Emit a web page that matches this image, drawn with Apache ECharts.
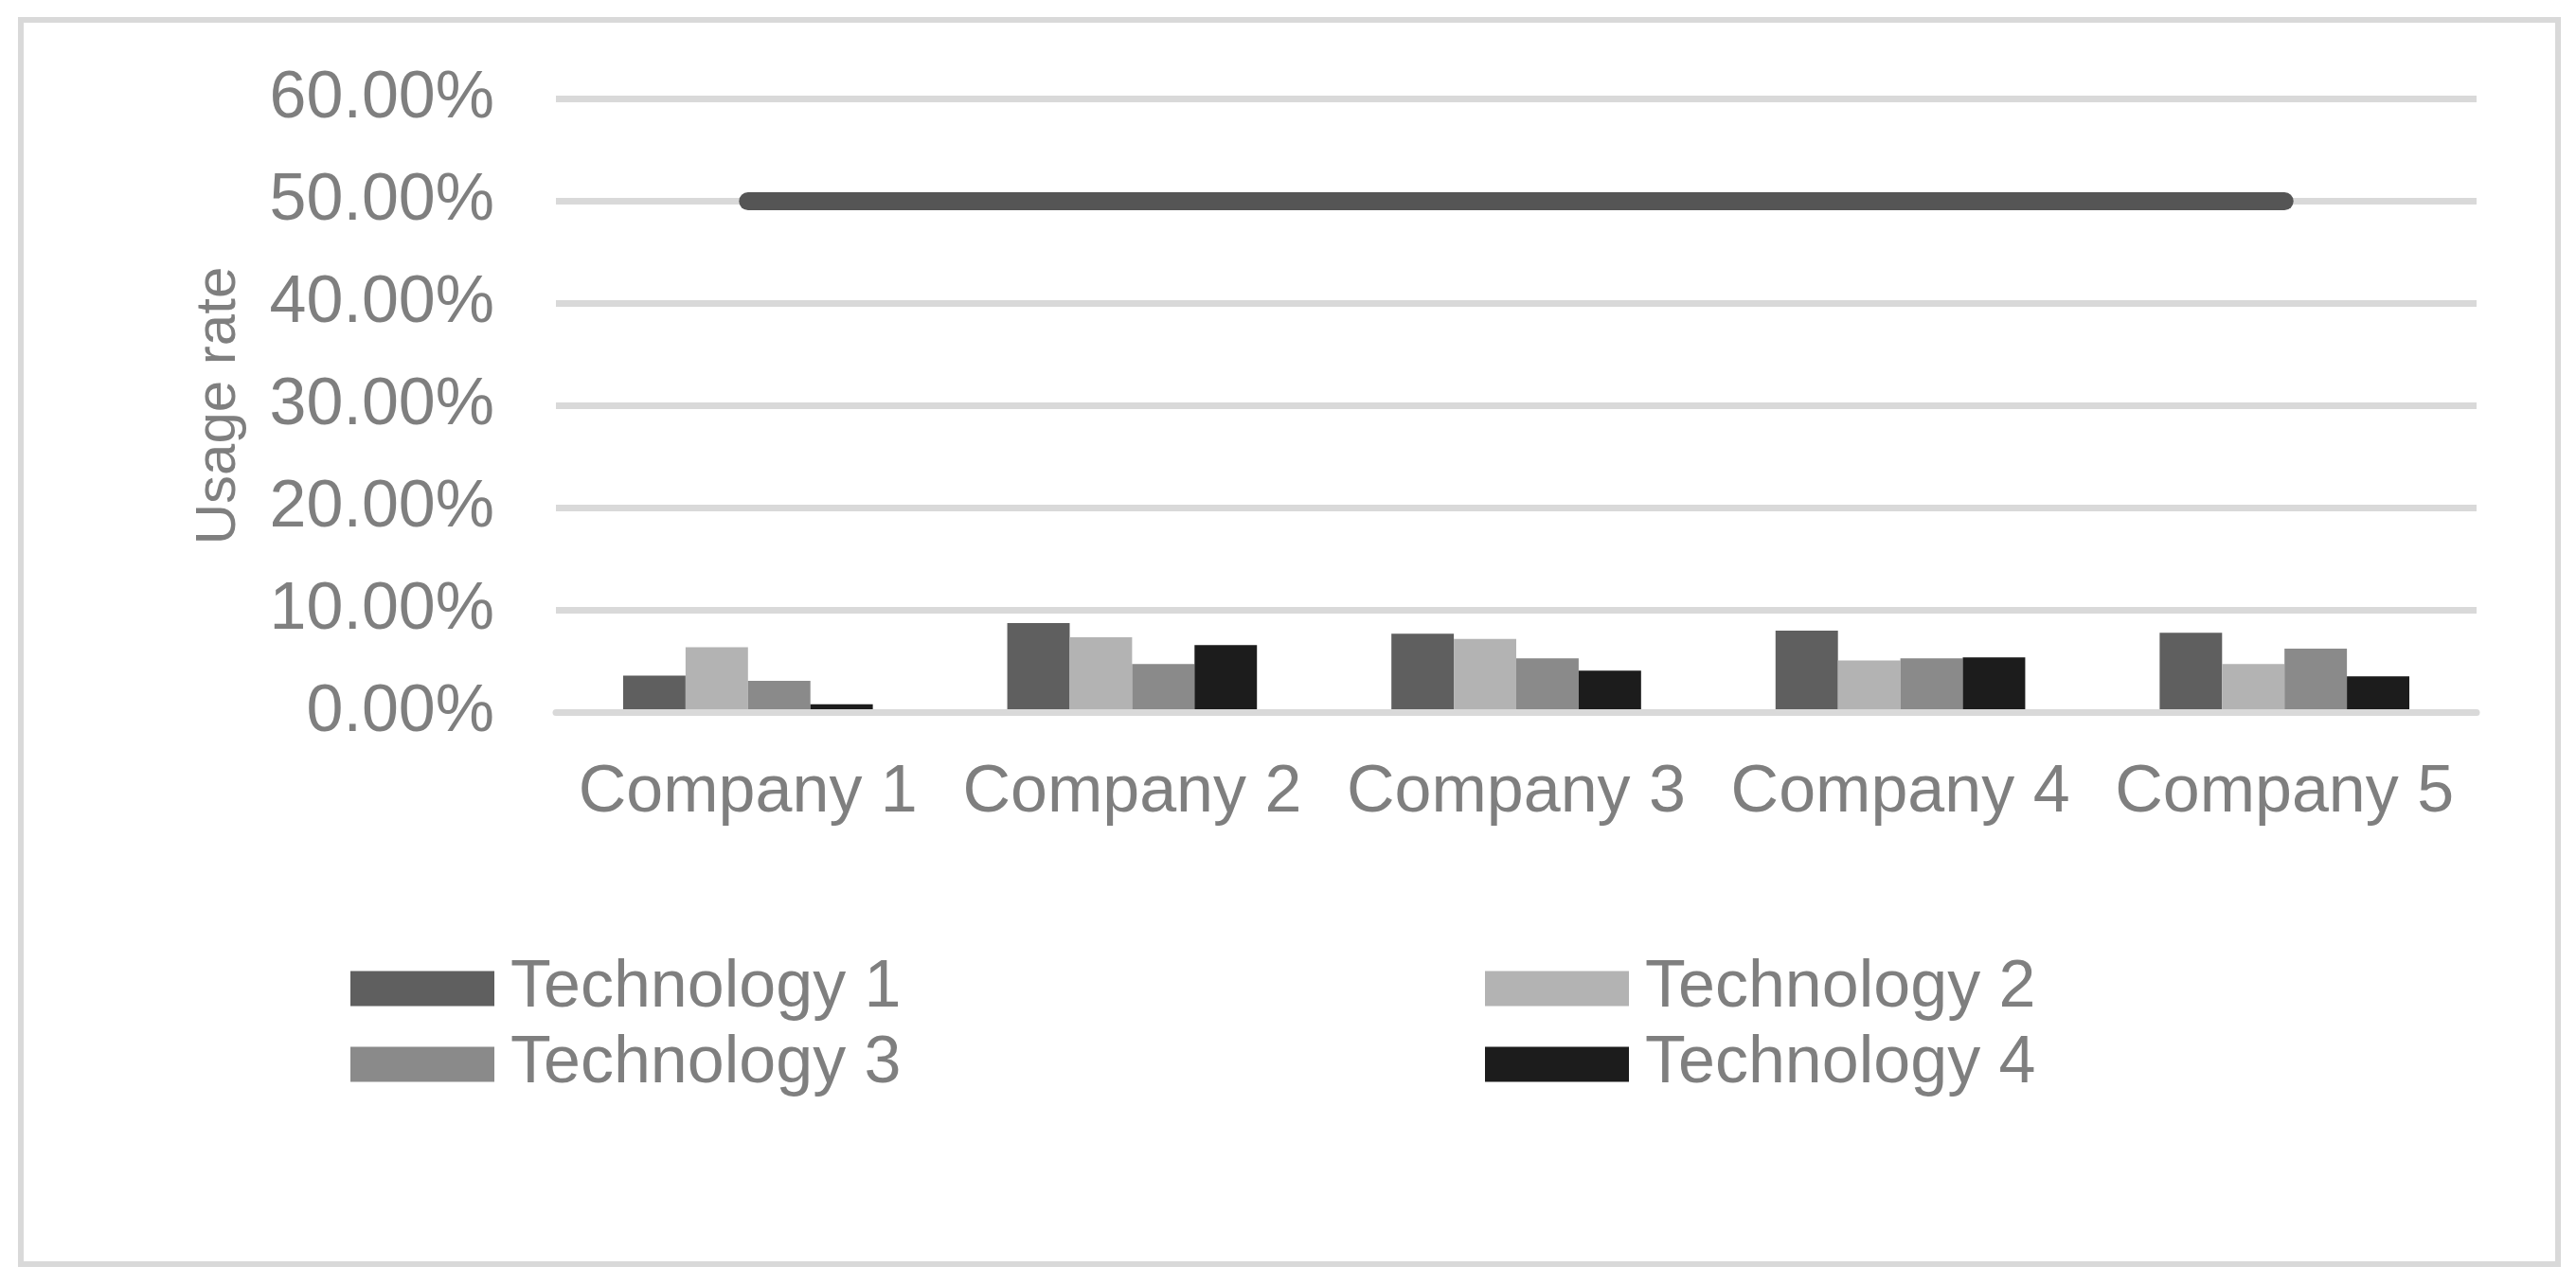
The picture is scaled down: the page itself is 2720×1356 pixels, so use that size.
<!DOCTYPE html>
<html>
<head>
<meta charset="utf-8">
<script src="https://cdn.jsdelivr.net/npm/echarts@6/dist/echarts.min.js"></script>
<style>
  html, body { margin: 0; padding: 0; background: #fff; }
  #chart { width: 2720px; height: 1356px; }
</style>
</head>
<body>
<div id="chart"></div>
<script>
const companies = ['Company 1', 'Company 2', 'Company 3', 'Company 4', 'Company 5']
const tech1 = [0.036, 0.0875, 0.077, 0.080, 0.078]
const tech2 = [0.064, 0.0735, 0.072, 0.051, 0.0475]
const tech3 = [0.031, 0.0475, 0.053, 0.053, 0.0625]
const tech4 = [0.008, 0.066, 0.041, 0.054, 0.0355]
const refLine = [0.50, 0.50, 0.50, 0.50, 0.50]
const techNames = ['Technology 1', 'Technology 2', 'Technology 3', 'Technology 4']
const techColors = ['#5f5f5f', '#b3b3b3', '#8a8a8a', '#1c1c1c']

const chart = echarts.init(document.getElementById('chart'))
const font = "'Liberation Sans', Arial, sans-serif"
const textGrey = '#7f7f7f'
const gridGrey = '#d9d9d9'

let barSeries = [tech1, tech2, tech3, tech4].map((vals, i) => {
  return {
    name: techNames[i],
    type: 'bar',
    barGap: '0%',
    barCategoryGap: '35%',
    itemStyle: { color: techColors[i] },
    data: vals
  }
})

// one legend per entry, laid out as 2 x 2
let legendPos = [[370, 1004], [1568, 1004], [370, 1084], [1568, 1084]]
let legends = techNames.map((name, i) => {
  return {
    data: [name],
    left: legendPos[i][0],
    top: legendPos[i][1],
    icon: 'rect',
    itemWidth: 152,
    itemHeight: 37,
    padding: 0,
    selectedMode: false,
    textStyle: {
      color: textGrey,
      fontSize: 70,
      fontFamily: font,
      lineHeight: 80,
      padding: [0, 0, 0, 12]
    }
  }
})

let option = {
  backgroundColor: '#ffffff',
  animation: false,
  graphic: [{
    type: 'rect',
    shape: { x: 22, y: 21, width: 2679, height: 1314 },
    style: { fill: 'none', stroke: gridGrey, lineWidth: 6 },
    silent: true
  }],
  legend: legends,
  grid: {
    left: 587,
    right: 105,
    top: 104.5,
    bottom: 603.5,
    containLabel: false,
    outerBoundsMode: 'none'
  },
  xAxis: {
    type: 'category',
    data: companies,
    z: 3,
    axisTick: { show: false },
    axisLine: { show: true, lineStyle: { color: gridGrey, width: 7 } },
    axisLabel: {
      interval: 0,
      color: textGrey,
      fontSize: 70,
      fontFamily: font,
      lineHeight: 80,
      margin: 45
    }
  },
  yAxis: {
    type: 'value',
    min: 0,
    max: 0.6,
    interval: 0.1,
    name: 'Usage rate',
    nameLocation: 'middle',
    nameGap: 326,
    nameTextStyle: {
      color: textGrey,
      fontSize: 60,
      fontFamily: font,
      lineHeight: 60
    },
    axisLine: { show: false },
    axisTick: { show: false },
    splitLine: { lineStyle: { color: gridGrey, width: 7 } },
    axisLabel: {
      color: textGrey,
      fontSize: 70,
      fontFamily: font,
      margin: 65,
      formatter: (v) => (v * 100).toFixed(2) + '%'
    }
  },
  series: barSeries.concat([{
    name: 'Reference',
    type: 'line',
    z: 4,
    symbol: 'none',
    lineStyle: { color: '#555555', width: 19, cap: 'round', join: 'round' },
    data: refLine
  }])
}
chart.setOption(option)
</script>
</body>
</html>
